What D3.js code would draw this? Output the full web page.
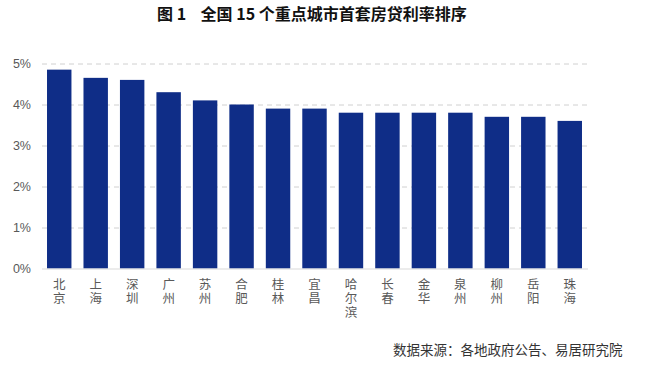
<!DOCTYPE html>
<html>
<head>
<meta charset="utf-8">
<script src="https://cdn.jsdelivr.net/npm/d3@7"></script>
<style>
  body { margin: 0; background: #fff; }
  svg { display: block; }
</style>
</head>
<body>
<svg id="chart" width="651" height="371"></svg>
<script>
// data
var cities = ['北京', '上海', '深圳', '广州', '苏州', '合肥', '桂林', '宜昌',
              '哈尔滨', '长春', '金华', '泉州', '柳州', '岳阳', '珠海'],
    rates = [4.85, 4.65, 4.6, 4.3, 4.1, 4.0, 3.9, 3.9, 3.8, 3.8, 3.8, 3.8, 3.7, 3.7, 3.6],
    yTicks = [0, 1, 2, 3, 4, 5];

var svg = d3.select('#chart'),
    font = '"Noto Sans CJK SC", "Liberation Sans", sans-serif';

var x = d3.scaleBand()
        .domain(cities)
        .range([41, 588])
        .paddingInner(0.33)
        .paddingOuter(0.165),
    y = d3.scaleLinear()
        .domain([0, 5])
        .range([268.5, 63.5]);

// title
svg.append('text')
    .attr('x', 157)
    .attr('y', 20)
    .attr('font-family', '"Noto Sans CJK SC", serif')
    .attr('font-weight', 'bold')
    .attr('font-size', 16)
    .attr('fill', '#111')
    .attr('xml:space', 'preserve')
    .text('图 1    全国 15 个重点城市首套房贷利率排序');

// gridlines
svg.append('g').selectAll('line').data(yTicks.slice(1)).enter()
  .append('line')
    .attr('x1', 42)
    .attr('x2', 588)
    .attr('y1', function(d) { return y(d) + 0.5; })
    .attr('y2', function(d) { return y(d) + 0.5; })
    .attr('stroke', '#d0d0d0')
    .attr('stroke-width', 1)
    .attr('stroke-dasharray', '5,4');

// bars
svg.append('g').selectAll('rect').data(rates).enter()
  .append('rect')
    .attr('x', function(d, i) { return x(cities[i]); })
    .attr('width', x.bandwidth())
    .attr('y', function(d) { return y(d); })
    .attr('height', function(d) { return y(0) - y(d); })
    .attr('fill', '#0f2d87');

// baseline
svg.append('line')
    .attr('x1', 42)
    .attr('x2', 588)
    .attr('y1', y(0) + 0.5)
    .attr('y2', y(0) + 0.5)
    .attr('stroke', '#d9d9d9')
    .attr('stroke-width', 1);

// y axis labels
svg.append('g').selectAll('text').data(yTicks).enter()
  .append('text')
    .attr('x', 31)
    .attr('y', function(d) { return y(d) + 4.5; })
    .attr('text-anchor', 'end')
    .attr('font-family', '"Liberation Sans", sans-serif')
    .attr('font-size', 12.5)
    .attr('fill', '#595959')
    .text(function(d) { return d + '%'; });

// category labels, written vertically
svg.append('g').selectAll('text').data(cities).enter()
  .append('text')
    .attr('x', function(d) { return x(d) + x.bandwidth() / 2; })
    .attr('y', 278)
    .style('writing-mode', 'vertical-rl')
    .style('letter-spacing', '1.5px')
    .attr('font-family', font)
    .attr('font-size', 12.5)
    .attr('fill', '#595959')
    .text(function(d) { return d; });

// source note
svg.append('text')
    .attr('x', 393)
    .attr('y', 355)
    .attr('font-family', font)
    .attr('font-size', 13.5)
    .attr('fill', '#333')
    .text('数据来源：各地政府公告、易居研究院');
</script>
</body>
</html>
